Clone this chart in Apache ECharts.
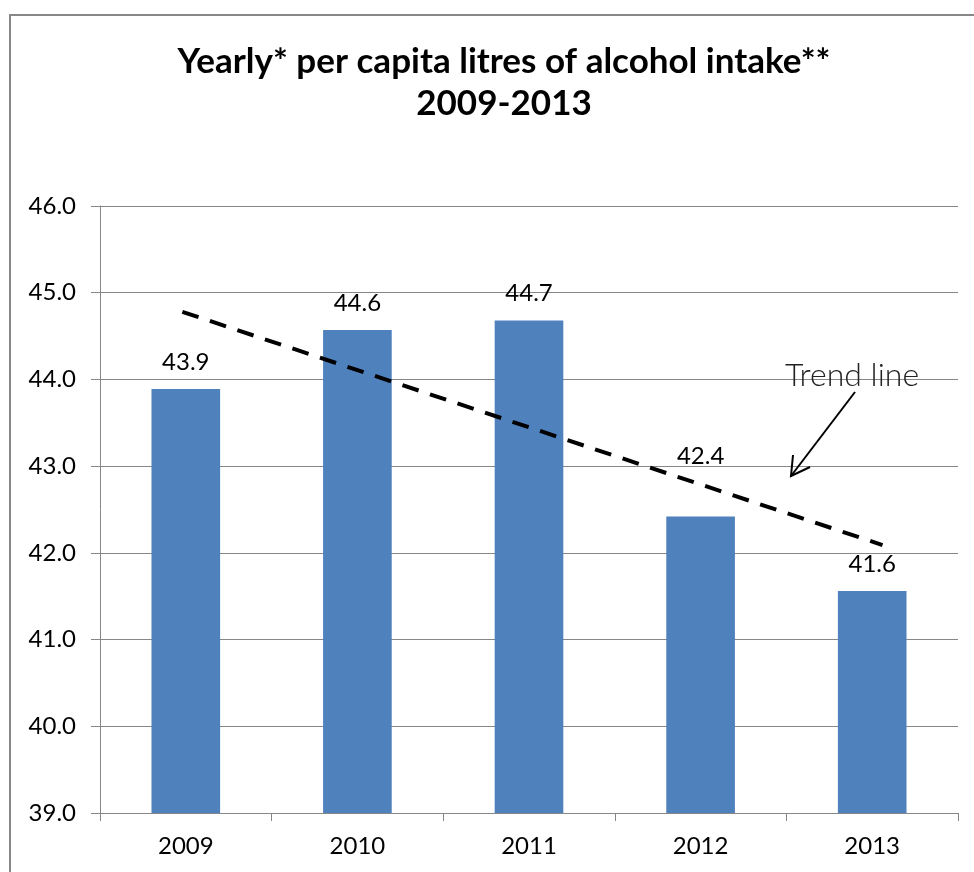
<!DOCTYPE html>
<html>
<head>
<meta charset="utf-8">
<script src="https://cdn.jsdelivr.net/npm/echarts@6/dist/echarts.min.js"></script>
<style>html,body{margin:0;padding:0;background:#fff;}#c{width:974px;height:872px;}</style>
</head>
<body>
<div id="c"></div>
<script>
const categories = ['2009', '2010', '2011', '2012', '2013'];
const values = [43.89, 44.57, 44.68, 42.42, 41.56];
const labels = ['43.9', '44.6', '44.7', '42.4', '41.6'];
const yTicks = [39, 40, 41, 42, 43, 44, 45, 46];
const trendX = [-0.02, 4.06];
const trendY = [44.78, 42.09];

const FONT = 'Lato, "Open Sans", sans-serif';
const chart = echarts.init(document.getElementById('c'), null, {renderer: 'canvas'});
chart.setOption({
  animation: false,
  backgroundColor: '#fff',
  title: {
    text: 'Yearly* per capita litres of alcohol intake**\n2009-2013',
    left: 499, top: 36, textAlign: 'center',
    textStyle: {fontFamily: FONT, fontSize: 35, fontWeight: 'bold', color: '#000', lineHeight: 42}
  },
  grid: {left: 100, right: 16, top: 206, bottom: 59},
  xAxis: [{
    type: 'category', data: categories, boundaryGap: true,
    axisLine: {lineStyle: {color: '#878787', width: 1}},
    axisTick: {show: true, length: 8, lineStyle: {color: '#878787'}},
    axisLabel: {fontFamily: FONT, fontSize: 24, color: '#000', margin: 21}
  }, {
    type: 'value', min: -0.5, max: 4.5, show: false,
    axisLine: {show: false}, splitLine: {show: false}
  }],
  yAxis: {
    type: 'value', min: yTicks[0], max: yTicks[yTicks.length - 1], interval: 1,
    axisLine: {show: true, onZero: false, lineStyle: {color: '#878787', width: 1}},
    axisTick: {show: true, length: 9, inside: false, lineStyle: {color: '#878787'}},
    splitLine: {lineStyle: {color: '#878787', width: 1}},
    axisLabel: {fontFamily: FONT, fontSize: 24, color: '#000', margin: 24,
      formatter: v => v.toFixed(1)}
  },
  series: [{
    type: 'bar', xAxisIndex: 0, barWidth: '40%',
    data: values.map((v, i) => i === 3 ? {value: v, label: {distance: 48}} : v),
    itemStyle: {color: '#4F81BD'},
    label: {show: true, position: 'top', distance: 15, fontFamily: FONT, fontSize: 24, color: '#000',
      formatter: p => labels[p.dataIndex]}
  }, {
    type: 'line', xAxisIndex: 1, symbol: 'none',
    data: trendX.map((x, i) => [x, trendY[i]]),
    lineStyle: {color: '#000', width: 4, type: [17, 12]}, z: 5
  }],
  graphic: [
    {type: 'rect', shape: {x: 10, y: 15, width: 1000, height: 900}, style: {fill: 'none', stroke: '#888', lineWidth: 2}, z: 100},
    {type: 'text', x: 852, y: 376, style: {text: 'Trend line', fontFamily: FONT, fontSize: 32, fontWeight: 300, fill: '#222', align: 'center', verticalAlign: 'middle'}, z: 100},
    {type: 'line', shape: {x1: 855, y1: 392, x2: 791, y2: 476}, style: {stroke: '#000', lineWidth: 2}, z: 100},
    {type: 'polyline', shape: {points: [[793, 455], [791, 476], [810, 467]]}, style: {stroke: '#000', lineWidth: 2, fill: 'none'}, z: 100}
  ]
});
</script>
</body>
</html>
